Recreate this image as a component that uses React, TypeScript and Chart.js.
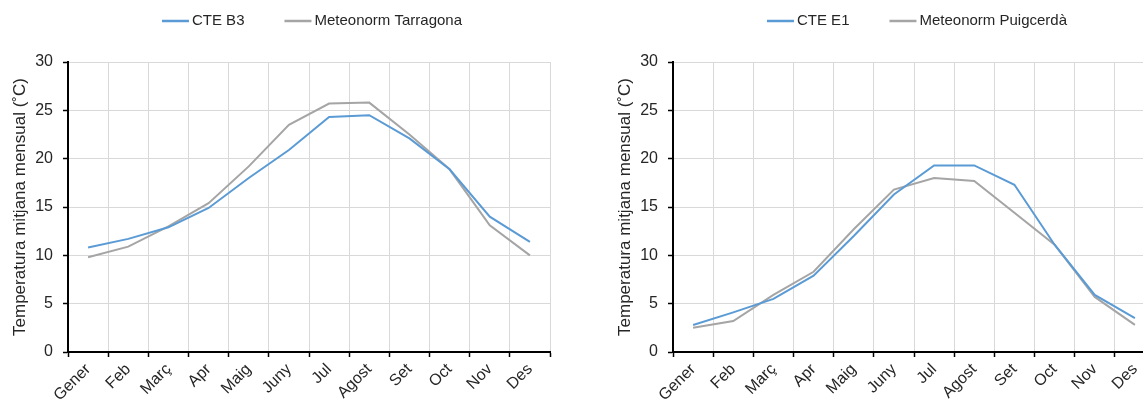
import React, { useEffect, useRef } from "react";
import { Chart, registerables } from "chart.js";

Chart.register(...registerables);

// Month labels shared by both panels
const months = ["Gener", "Feb", "Març", "Apr", "Maig", "Juny", "Jul", "Agost", "Set", "Oct", "Nov", "Des"];

// Monthly mean temperatures (°C)
const cteB3 = [10.8, 11.7, 12.9, 14.9, 18.0, 20.9, 24.3, 24.5, 22.1, 18.9, 14.0, 11.4];
const meteonormTarragona = [9.8, 10.9, 13.0, 15.4, 19.2, 23.5, 25.7, 25.8, 22.5, 18.9, 13.1, 10.0];
const cteE1 = [2.8, 4.1, 5.5, 7.9, 12.0, 16.3, 19.3, 19.3, 17.3, 11.1, 5.9, 3.5];
const meteonormPuigcerda = [2.5, 3.2, 5.9, 8.3, 12.7, 16.8, 18.0, 17.7, 14.4, 11.1, 5.7, 2.8];

// Y axis range and tick step
const yMin = 0;
const yMax = 30;
const yStep = 5;

const yTitle = "Temperatura mitjana mensual (˚C)";

const BLUE = "#5B9BD5";
const GREY = "#A5A5A5";
const TEXT = "#262626";
const FONT = "'Liberation Sans', Arial, sans-serif";

type Series = { label: string; data: number[]; color: string };

// Legend drawn as short line samples centred over the plot area
const lineLegend = {
  id: "lineLegend",
  afterDraw(chart: any) {
    const { ctx, chartArea } = chart;
    ctx.save();
    ctx.font = `15px ${FONT}`;
    const items = chart.data.datasets.map((ds: any) => ({
      text: ds.label as string,
      color: ds.borderColor as string,
      w: ctx.measureText(ds.label).width,
    }));
    const sample = 27;
    const gap = 3;
    const between = 40;
    const total =
      items.reduce((s: number, it: any) => s + sample + gap + it.w, 0) + between * (items.length - 1);
    let x = (chartArea.left + chartArea.right) / 2 - total / 2 + 3;
    const y = 21;
    for (const it of items) {
      ctx.strokeStyle = it.color;
      ctx.lineWidth = 2.5;
      ctx.beginPath();
      ctx.moveTo(x, y);
      ctx.lineTo(x + sample, y);
      ctx.stroke();
      ctx.fillStyle = TEXT;
      ctx.textBaseline = "middle";
      ctx.textAlign = "left";
      ctx.fillText(it.text, x + sample + gap, y);
      x += sample + gap + it.w + between;
    }
    ctx.restore();
  },
};

function TempChart({ series, left }: { series: Series[]; left: number }) {
  const ref = useRef<HTMLCanvasElement>(null);

  useEffect(() => {
    const chart = new Chart(ref.current!, {
      type: "line",
      data: {
        labels: months,
        datasets: series.map((s) => ({
          label: s.label,
          data: s.data,
          borderColor: s.color,
          backgroundColor: s.color,
          borderWidth: 2,
          pointRadius: 0,
          tension: 0,
        })),
      },
      options: {
        animation: false,
        responsive: false,
        events: [],
        layout: { padding: { left: 0, right: 30, top: 62, bottom: 0 } },
        plugins: {
          legend: { display: false },
          tooltip: { enabled: false },
        },
        scales: {
          x: {
            offset: true,
            grid: {
              offset: true,
              color: "#D9D9D9",
              lineWidth: 1,
              tickColor: "#000",
              tickLength: 5,
              tickWidth: 1.5,
            },
            border: { color: "#000", width: 2 },
            ticks: {
              autoSkip: false,
              minRotation: 45,
              maxRotation: 45,
              padding: 3,
              color: TEXT,
              font: { family: FONT, size: 16 },
            },
            afterFit: (scale: any) => {
              scale.height = 53;
            },
          },
          y: {
            min: yMin,
            max: yMax,
            ticks: {
              stepSize: yStep,
              padding: 10,
              color: TEXT,
              font: { family: FONT, size: 16 },
            },
            grid: {
              color: "#D9D9D9",
              lineWidth: 1,
              tickColor: "#000",
              tickLength: 5,
              tickWidth: 1.5,
            },
            border: { color: "#000", width: 2 },
            title: {
              display: true,
              text: yTitle,
              color: TEXT,
              font: { family: FONT, size: 17, lineHeight: 1.2 },
              padding: { top: 9.8, bottom: 0 },
            },
            afterFit: (scale: any) => {
              scale.width = 68;
            },
          },
        },
      },
      plugins: [lineLegend],
    });
    return () => chart.destroy();
  }, []);

  return (
    <canvas
      ref={ref}
      width={580}
      height={405}
      style={{ position: "absolute", left, top: 0, width: 580, height: 405 }}
    />
  );
}

export default function App() {
  return (
    <div
      style={{
        position: "fixed",
        left: 0,
        top: 0,
        width: 1143,
        height: 405,
        overflow: "hidden",
        background: "#fff",
      }}
    >
      <TempChart
        left={0}
        series={[
          { label: "CTE B3", data: cteB3, color: BLUE },
          { label: "Meteonorm Tarragona", data: meteonormTarragona, color: GREY },
        ]}
      />
      <TempChart
        left={605}
        series={[
          { label: "CTE E1", data: cteE1, color: BLUE },
          { label: "Meteonorm Puigcerdà", data: meteonormPuigcerda, color: GREY },
        ]}
      />
    </div>
  );
}
